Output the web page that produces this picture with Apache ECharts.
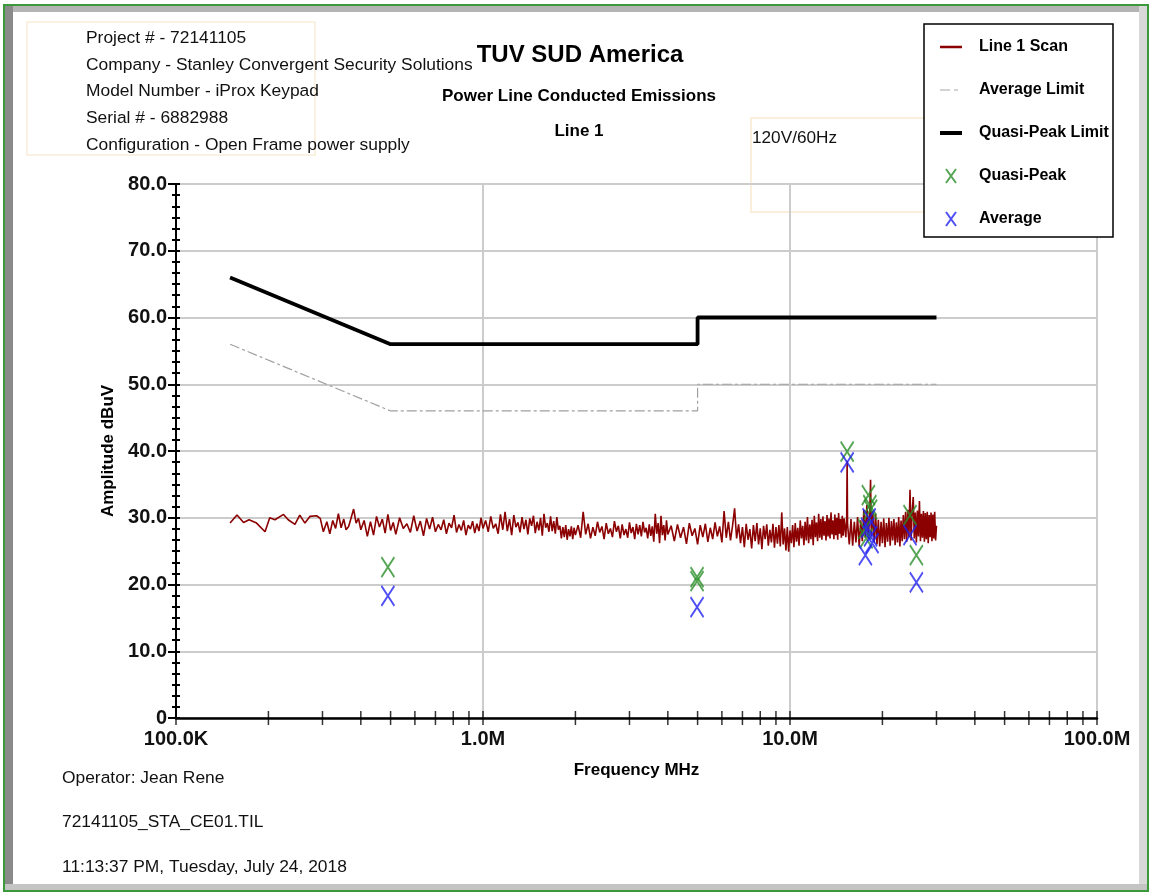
<!DOCTYPE html>
<html>
<head>
<meta charset="utf-8">
<script src="https://cdn.jsdelivr.net/npm/echarts@6/dist/echarts.min.js"></script>
<style>
  html, body { margin: 0; padding: 0; background: #ffffff; }
  #main { width: 1151px; height: 893px; }
</style>
</head>
<body>
<div id="main"></div>
<script>
// header / footer text
var headerLines = [
    'Project # - 72141105',
    'Company - Stanley Convergent Security Solutions',
    'Model Number - iProx Keypad',
    'Serial # - 6882988',
    'Configuration - Open Frame power supply'
];
var footerLines = [
    'Operator: Jean Rene',
    '72141105_STA_CE01.TIL',
    '11:13:37 PM, Tuesday, July 24, 2018'
];

// limits [MHz, dBuV]
var qpLimit = [[0.15, 66], [0.5, 56], [5, 56], [5, 60], [30, 60]];
var avgLimit = [[0.15, 56], [0.5, 46], [5, 46], [5, 50], [30, 50]];

// measured points [MHz, dBuV]
var qpPoints = [
    [0.49, 22.6], [4.98, 21.1], [4.98, 20.5], [15.35, 39.9],
    [18.0, 33.4], [18.2, 31.9], [18.3, 31.2], [17.5, 28.3], [17.7, 26.9],
    [24.6, 30.4], [25.8, 24.4]
];
var avgPoints = [
    [0.49, 18.3], [4.98, 16.6], [15.35, 38.3],
    [18.1, 29.9], [17.9, 28.5], [18.3, 27.2], [18.5, 26.2], [17.6, 24.4],
    [24.6, 27.4], [25.8, 20.3]
];

// scan trace [MHz, dBuV]
var scanLow = [
    [0.150, 29.2], [0.158, 30.4], [0.166, 29.3], [0.173, 29.7], [0.183, 29.2], [0.195, 27.9],
    [0.202, 30.0], [0.210, 29.7], [0.224, 30.5], [0.232, 29.7], [0.244, 29.0], [0.253, 30.4],
    [0.263, 29.2], [0.273, 30.2], [0.287, 30.3], [0.295, 29.9], [0.302, 27.9], [0.310, 29.4],
    [0.317, 27.6], [0.324, 29.6], [0.331, 28.4], [0.338, 30.6],
    [0.345, 28.5], [0.352, 29.8], [0.358, 28.2], [0.365, 28.7], [0.372, 30.0], [0.379, 31.3],
    [0.386, 29.2], [0.393, 29.9], [0.40, 28.2], [0.41, 29.6], [0.42, 27.2], [0.43, 29.4],
    [0.44, 27.4], [0.45, 30.2], [0.46, 28.6], [0.47, 29.8], [0.48, 27.7], [0.49, 30.5],
    [0.50, 28.1], [0.51, 29.3], [0.52, 27.5], [0.535, 30.0], [0.55, 28.4], [0.565, 29.1],
    [0.58, 27.8], [0.595, 30.3], [0.61, 28.0], [0.625, 29.5], [0.64, 27.3], [0.655, 29.9],
    [0.67, 28.3], [0.685, 30.1], [0.70, 27.9], [0.715, 29.0], [0.73, 28.2], [0.745, 29.7],
    [0.76, 27.6], [0.775, 29.2], [0.79, 28.5], [0.805, 30.4], [0.82, 27.8], [0.835, 29.0],
    [0.85, 28.1], [0.865, 29.6], [0.88, 27.4], [0.895, 28.9], [0.91, 28.3], [0.925, 29.5],
    [0.94, 27.7], [0.955, 29.1], [0.97, 28.0], [0.985, 30.0], [1.0, 28.4]
];
var scanMid = [
    [1.02, 29.6], [1.04, 27.9], [1.06, 30.2], [1.08, 28.4], [1.10, 29.1], [1.12, 27.6],
    [1.14, 30.5], [1.16, 28.2], [1.18, 30.9], [1.20, 28.0], [1.22, 29.8], [1.24, 27.4],
    [1.26, 30.4], [1.28, 28.6], [1.30, 29.3], [1.32, 27.8], [1.34, 30.1], [1.36, 28.3],
    [1.38, 29.7], [1.40, 27.5], [1.42, 29.9], [1.44, 28.8], [1.46, 30.3], [1.48, 27.7],
    [1.50, 29.4], [1.52, 28.1], [1.54, 30.0], [1.56, 27.3], [1.58, 30.6], [1.60, 28.5],
    [1.62, 29.2], [1.64, 27.9], [1.66, 30.2], [1.68, 28.0], [1.70, 29.5], [1.72, 27.6],
    [1.74, 30.1], [1.76, 28.2], [1.78, 28.8], [1.80, 26.9], [1.82, 28.6], [1.84, 27.1],
    [1.86, 28.9], [1.88, 26.7], [1.90, 28.3], [1.92, 27.2], [1.94, 28.7], [1.96, 26.8],
    [1.98, 28.5], [2.00, 27.4],
    [2.04, 28.9], [2.08, 27.0], [2.12, 30.9], [2.16, 27.5], [2.20, 29.1], [2.24, 26.9],
    [2.28, 28.6], [2.32, 27.3], [2.36, 29.4], [2.40, 27.8], [2.44, 28.7], [2.48, 26.8],
    [2.52, 29.2], [2.56, 27.6], [2.60, 28.4], [2.64, 27.1], [2.68, 29.5], [2.72, 27.9],
    [2.76, 28.8], [2.80, 26.9], [2.84, 29.0], [2.88, 27.4], [2.92, 28.3], [2.96, 27.0],
    [3.00, 29.3], [3.04, 27.7], [3.08, 28.6], [3.12, 26.8], [3.16, 29.1], [3.20, 27.5],
    [3.24, 28.9], [3.28, 27.2], [3.32, 29.4], [3.36, 27.8], [3.40, 28.5], [3.44, 26.9],
    [3.48, 29.0], [3.52, 27.3], [3.56, 28.7], [3.60, 26.4], [3.64, 30.6], [3.68, 27.6],
    [3.72, 29.2], [3.76, 26.2], [3.80, 30.3], [3.84, 27.4], [3.88, 28.9], [3.92, 26.6],
    [3.96, 29.6], [4.00, 27.5],
    [4.1, 28.8], [4.2, 26.5], [4.3, 29.0], [4.4, 27.0], [4.5, 28.6], [4.6, 26.1],
    [4.7, 29.2], [4.8, 27.3], [4.9, 28.4], [5.0, 26.0], [5.1, 28.9], [5.2, 27.1],
    [5.3, 29.1], [5.4, 26.4], [5.5, 28.5], [5.6, 26.8], [5.7, 29.3], [5.8, 27.2],
    [5.9, 28.7], [6.0, 26.3], [6.1, 31.0], [6.2, 27.0], [6.3, 29.4], [6.4, 26.6],
    [6.5, 28.8], [6.6, 31.4], [6.7, 26.9], [6.8, 29.0], [6.9, 26.2], [7.0, 28.6],
    [7.1, 25.6], [7.2, 29.1], [7.3, 26.7], [7.4, 28.3], [7.5, 25.4], [7.6, 28.9],
    [7.7, 26.5], [7.8, 29.2], [7.9, 26.0], [8.0, 28.4], [8.1, 25.3], [8.2, 28.8],
    [8.3, 26.8], [8.4, 29.0], [8.5, 25.8], [8.6, 28.2], [8.7, 26.3], [8.8, 29.1],
    [8.9, 25.5], [9.0, 28.6], [9.1, 26.1], [9.2, 28.9], [9.3, 25.7], [9.4, 30.8],
    [9.5, 26.0], [9.6, 28.4], [9.7, 25.1], [9.8, 28.6], [9.9, 24.9], [10.0, 28.1]
];
var scanHigh = [
    [10.1, 26.2], [10.2, 28.9], [10.3, 25.6], [10.4, 29.2], [10.5, 26.4], [10.6, 28.5],
    [10.7, 25.8], [10.8, 29.6], [10.9, 26.9], [11.0, 28.8], [11.1, 25.9], [11.2, 29.4],
    [11.3, 26.6], [11.4, 30.1], [11.5, 26.2], [11.6, 29.0], [11.7, 26.8], [11.8, 29.7],
    [11.9, 25.9], [12.0, 30.3], [12.1, 27.1], [12.2, 29.3], [12.3, 26.5], [12.4, 30.6],
    [12.5, 27.0], [12.6, 29.8], [12.7, 26.7], [12.8, 30.2], [12.9, 27.3], [13.0, 29.5],
    [13.1, 26.6], [13.2, 30.4], [13.3, 27.2], [13.4, 29.9], [13.5, 26.9], [13.6, 30.8],
    [13.7, 27.5], [13.8, 29.6], [13.9, 26.8], [14.0, 30.5], [14.1, 27.4], [14.2, 30.0],
    [14.3, 26.7], [14.4, 30.7], [14.5, 27.6], [14.6, 29.8], [14.7, 27.0], [14.8, 30.3],
    [14.9, 27.3], [15.0, 29.9],
    [15.2, 27.1], [15.3, 30.2], [15.35, 38.5], [15.4, 29.0], [15.6, 26.0], [15.8, 29.8],
    [16.0, 25.8], [16.2, 29.4], [16.4, 26.3], [16.6, 30.1], [16.8, 25.7], [17.0, 29.6],
    [17.2, 26.5], [17.4, 31.2], [17.6, 27.0], [17.8, 31.9], [18.0, 26.8], [18.2, 31.4],
    [18.3, 35.7], [18.4, 27.2], [18.6, 31.0], [18.8, 26.3], [19.0, 30.6], [19.2, 26.0],
    [19.4, 29.7], [19.6, 25.7], [19.8, 29.4], [20.0, 26.2], [20.2, 29.9], [20.4, 25.6],
    [20.6, 29.2], [20.8, 26.4], [21.0, 30.0], [21.2, 25.8], [21.4, 29.5], [21.6, 26.6],
    [21.8, 29.8], [22.0, 25.9], [22.2, 29.3], [22.4, 26.3], [22.6, 30.1], [22.8, 25.7],
    [23.0, 29.6], [23.2, 26.5], [23.4, 30.4], [23.6, 26.8], [23.8, 30.9], [24.0, 26.4],
    [24.2, 31.2], [24.4, 27.1], [24.6, 34.2], [24.8, 26.6], [25.0, 31.0], [25.2, 33.1],
    [25.4, 26.9], [25.6, 30.8], [25.8, 26.3], [26.0, 31.1], [26.2, 27.2], [26.4, 32.5],
    [26.6, 26.5], [26.8, 30.6], [27.0, 27.0], [27.2, 31.0], [27.4, 26.4], [27.6, 30.7],
    [27.8, 26.8], [28.0, 30.9], [28.2, 26.2], [28.4, 30.4], [28.6, 27.1], [28.8, 30.8],
    [29.0, 26.5], [29.2, 30.5], [29.4, 26.9], [29.6, 30.9], [29.8, 26.6], [30.0, 28.8]
];
var scanData = scanLow.concat(scanMid, scanHigh);

// axis ticks / labels
var xTicks = [0.1, 0.2, 0.3, 0.4, 0.5, 0.6, 0.7, 0.8, 0.9,
              1, 2, 3, 4, 5, 6, 7, 8, 9,
              10, 20, 30, 40, 50, 60, 70, 80, 90, 100];
var xTickLabels = ['100.0K', '1.0M', '10.0M', '100.0M'];

var FONT = '"Liberation Sans", Arial, sans-serif';
var xMark = 'path://M0,0L10,14M10,0L0,14';
// legend line icons: tiny corner dots keep the 22x14 box so the bar is not stretched
var BOX = 'M0,0L0.01,0L0.01,0.01L0,0.01Z M22,14L21.99,14L21.99,13.99L22,13.99Z ';
var scanIcon = 'path://' + BOX + 'M0,5.8L22,5.8L22,8.2L0,8.2Z';
var avgIcon = 'path://' + BOX + 'M0,6.5L10,6.5L10,7.5L0,7.5Z M14,6.5L18,6.5L18,7.5L14,7.5Z';
var qpIcon = 'path://' + BOX + 'M0,5L22,5L22,9L0,9Z';

var chart = echarts.init(document.getElementById('main'));

var graphics = [];
// page frame
graphics.push({ type: 'rect', shape: { x: 4, y: 5, width: 1144, height: 886 },
    style: { fill: 'none', stroke: '#3a9a3a', lineWidth: 2 }, z: 0 });
graphics.push({ type: 'rect', shape: { x: 5, y: 6, width: 1142, height: 6 },
    style: { fill: '#b4b4b4' }, z: 0 });
graphics.push({ type: 'rect', shape: { x: 5, y: 6, width: 8, height: 884 },
    style: { fill: '#8a8a8a' }, z: 0 });
graphics.push({ type: 'rect', shape: { x: 1139, y: 6, width: 8, height: 884 },
    style: { fill: '#d8d8d8' }, z: 0 });
graphics.push({ type: 'rect', shape: { x: 5, y: 884, width: 1142, height: 6 },
    style: { fill: '#c4c4c4' }, z: 0 });
// faint boxes
graphics.push({ type: 'rect', shape: { x: 27, y: 22, width: 288, height: 133 },
    style: { fill: 'none', stroke: '#fbf1e0', lineWidth: 2 }, z: 0 });
graphics.push({ type: 'rect', shape: { x: 751, y: 118, width: 174, height: 94 },
    style: { fill: 'none', stroke: '#fbeedb', lineWidth: 2 }, z: 0 });
// legend box
graphics.push({ type: 'rect', shape: { x: 924, y: 24, width: 189, height: 213 },
    style: { fill: '#ffffff', stroke: '#000000', lineWidth: 1.5 }, z: 1 });

headerLines.forEach(function (t, i) {
    graphics.push({ type: 'text', z: 5, style: { text: t, x: 86, y: 38 + i * 26.8,
        font: '17.4px ' + FONT, fill: '#111', align: 'left', verticalAlign: 'middle' } });
});
footerLines.forEach(function (t, i) {
    graphics.push({ type: 'text', z: 5, style: { text: t, x: 62, y: 778 + i * 44.5,
        font: '17.4px ' + FONT, fill: '#111', align: 'left', verticalAlign: 'middle' } });
});
graphics.push({ type: 'text', z: 5, style: { text: 'TUV SUD America', x: 580, y: 55,
    font: 'bold 24px ' + FONT, fill: '#000', align: 'center', verticalAlign: 'middle' } });
graphics.push({ type: 'text', z: 5, style: { text: 'Power Line Conducted Emissions', x: 579, y: 96,
    font: 'bold 17px ' + FONT, fill: '#000', align: 'center', verticalAlign: 'middle' } });
graphics.push({ type: 'text', z: 5, style: { text: 'Line 1', x: 579, y: 131,
    font: 'bold 17px ' + FONT, fill: '#000', align: 'center', verticalAlign: 'middle' } });
graphics.push({ type: 'text', z: 5, style: { text: '120V/60Hz', x: 752, y: 138,
    font: '17.2px ' + FONT, fill: '#111', align: 'left', verticalAlign: 'middle' } });

var option = {
    animation: false,
    backgroundColor: '#ffffff',
    graphic: graphics,
    legend: {
        orient: 'vertical',
        left: 940,
        top: 39,
        padding: 0,
        itemWidth: 22,
        itemHeight: 14,
        itemGap: 27,
        textStyle: { fontFamily: FONT, fontWeight: 'bold', fontSize: 16, color: '#000', padding: [0, 0, 0, 12] },
        data: [
            { name: 'Line 1 Scan', icon: scanIcon },
            { name: 'Average Limit', icon: avgIcon },
            { name: 'Quasi-Peak Limit', icon: qpIcon },
            { name: 'Quasi-Peak', icon: xMark },
            { name: 'Average', icon: xMark }
        ]
    },
    grid: { left: 176, right: 54, top: 184, bottom: 175 },
    xAxis: {
        type: 'log',
        logBase: 10,
        min: 0.1,
        max: 100,
        name: 'Frequency MHz',
        nameLocation: 'middle',
        nameGap: 44,
        nameTextStyle: { fontFamily: FONT, fontWeight: 'bold', fontSize: 17, color: '#000' },
        axisLine: { lineStyle: { color: '#000', width: 2.5 } },
        axisTick: { show: false },
        axisLabel: {
            margin: 11,
            fontFamily: FONT, fontWeight: 'bold', fontSize: 20, color: '#111',
            formatter: function (v) {
                var idx = Math.round(Math.log10(v)) + 1;
                return xTickLabels[idx] || '';
            }
        },
        splitLine: { show: true, lineStyle: { color: '#cccccc', width: 2 } }
    },
    yAxis: [{
        type: 'value',
        min: 0,
        max: 80,
        interval: 10,
        name: 'Amplitude dBuV',
        nameLocation: 'middle',
        nameRotate: 90,
        nameGap: 56,
        nameTextStyle: { fontFamily: FONT, fontWeight: 'bold', fontSize: 17, color: '#000' },
        axisLine: { show: true, lineStyle: { color: '#000', width: 2 } },
        axisTick: { show: true, length: 8, lineStyle: { color: '#000', width: 2 } },
        minorTick: { show: true, splitNumber: 6, length: 4, lineStyle: { color: '#000', width: 2 } },
        axisLabel: {
            margin: 9,
            fontFamily: FONT, fontWeight: 'bold', fontSize: 20, color: '#111',
            formatter: function (v) { return v === 0 ? '0' : v.toFixed(1); }
        },
        splitLine: { show: true, lineStyle: { color: '#cccccc', width: 2 } }
    }, {
        type: 'value',
        min: 0,
        max: 80,
        interval: 10,
        position: 'left',
        axisLine: { show: false },
        axisTick: { show: true, inside: true, length: 4, lineStyle: { color: '#000', width: 2 } },
        minorTick: { show: true, splitNumber: 6, length: 4, lineStyle: { color: '#000', width: 2 } },
        axisLabel: { show: false },
        splitLine: { show: false }
    }],
    series: [{
        name: 'Line 1 Scan',
        type: 'line',
        data: scanData,
        symbol: 'none',
        lineStyle: { color: '#8b0000', width: 1.6 },
        itemStyle: { color: '#8b0000' },
        z: 2
    }, {
        name: 'Average Limit',
        type: 'line',
        data: avgLimit,
        symbol: 'none',
        lineStyle: { color: '#a0a0a0', width: 1.2, type: [10, 3, 3, 3] },
        itemStyle: { color: '#a8a8a8' },
        z: 3
    }, {
        name: 'Quasi-Peak Limit',
        type: 'line',
        data: qpLimit,
        symbol: 'none',
        lineStyle: { color: '#000000', width: 3.8 },
        itemStyle: { color: '#000000' },
        z: 3
    }, {
        name: 'Quasi-Peak',
        type: 'scatter',
        data: qpPoints,
        symbol: xMark,
        symbolSize: [13, 20],
        itemStyle: { color: 'rgba(0,0,0,0)', borderColor: '#2a8f2a', borderWidth: 2 },
        z: 4
    }, {
        name: 'Average',
        type: 'scatter',
        data: avgPoints,
        symbol: xMark,
        symbolSize: [13, 20],
        itemStyle: { color: 'rgba(0,0,0,0)', borderColor: '#2222f2', borderWidth: 2 },
        z: 5
    }, {
        name: 'xticks',
        type: 'scatter',
        data: xTicks.map(function (f) { return [f, 0]; }),
        symbol: 'rect',
        symbolSize: [1.5, 14],
        itemStyle: { color: '#000' },
        clip: false,
        silent: true,
        z: 6
    }]
};
chart.setOption(option);
</script>
</body>
</html>
